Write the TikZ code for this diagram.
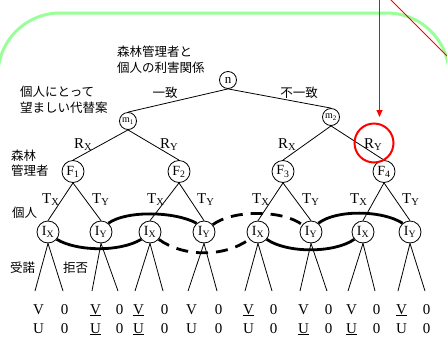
\documentclass[tikz,border=0pt]{standalone}
\usepackage{fontspec}
\setmainfont{Liberation Serif}
\newfontfamily\jpFont{Noto Sans CJK JP}
\usetikzlibrary{arrows.meta}
\tikzstyle{pixelGrid} = [x = 1pt, y = -1pt]
\definecolor{frameColor}{RGB}{153,255,153}
\definecolor{markColor}{RGB}{255,0,0}
\tikzstyle{frameStyle} = [color=frameColor, line width=3pt, rounded corners=62pt]
\tikzstyle{markLine} = [color=markColor, line width=1pt]
\tikzstyle{treeLine} = [line width=0.8pt]
\tikzstyle{smallChoice} = [draw, circle, fill=white, line width=0.8pt, inner sep=0pt, minimum size=17pt]
\tikzstyle{bigChoice} = [draw, circle, fill=white, line width=0.8pt, inner sep=0pt, minimum size=22pt, font=\fontsize{14}{14}\selectfont]
\tikzstyle{branchText} = [font=\fontsize{15}{15}\selectfont, inner sep=0pt, anchor=base west]
\tikzstyle{payoffText} = [font=\fontsize{15}{15}\selectfont, inner sep=0pt, anchor=base]
\tikzstyle{jpText} = [font=\jpFont\fontsize{12.5}{15.5}\selectfont, inner sep=0pt, anchor=west, align=left]
\tikzstyle{jpBranch} = [font=\jpFont\fontsize{12.5}{15.5}\selectfont, inner sep=0pt]
\tikzstyle{infoSet} = [line width=2.8pt]
\tikzstyle{infoSetDashed} = [line width=2.8pt, dash pattern=on 12pt off 8pt]
\newcommand{\subLabel}[2]{#1\textsubscript{#2}}
\newcommand{\leafPayoff}[3]{
  \path (accept#1) ++(3.5,23) node [payoffText] (valueV#1) {#2} ++(0,19) node [payoffText] (valueU#1) {#3};
  \path (reject#1) ++(1.5,23) node [payoffText] (zeroV#1) {0} ++(0,19) node [payoffText] (zeroU#1) {0};
}

\begin{document}
\begin{tikzpicture}[pixelGrid]
  \path [use as bounding box, clip] (0,0) rectangle (447,338);
  \draw [frameStyle] (-2,420) -- (-2,13) -- (449,13) -- (449,420);

  \node [smallChoice, font=\fontsize{13}{13}\selectfont] (n) at (228,80) {n};
  \node [smallChoice, font=\fontsize{10}{10}\selectfont] (m1) at (128,121) {\subLabel{m}{1}};
  \node [smallChoice, font=\fontsize{10}{10}\selectfont] (m2) at (331,117) {\subLabel{m}{2}};
  \foreach \idx/\x in {1/73, 2/179, 3/283, 4/384}
    \node [bigChoice] (F\idx) at (\x,171.5) {\subLabel{F}{\idx}};
  \foreach \idx/\x/\tag in {1/48/X, 2/101/Y, 3/150/X, 4/204/Y, 5/258/X, 6/311/Y, 7/363/X, 8/410/Y}
    \node [bigChoice] (I\idx) at (\x,232) {\subLabel{I}{\tag}};

  \draw [treeLine] (m1.north) -- (n.south) -- (m2.north);
  \foreach \parent/\leftKid/\rightKid in {m1/F1/F2, m2/F3/F4, F1/I1/I2, F2/I3/I4, F3/I5/I6, F4/I7/I8}
    \draw [treeLine] (\leftKid.north) -- (\parent.south) -- (\rightKid.north);
  \foreach \idx/\xa/\xb in {1/35/63, 2/92/118, 3/135/163, 4/188/217, 5/245/272, 6/300/327, 7/348/375, 8/398/425} {
    \coordinate (accept\idx) at (\xa,291);
    \coordinate (reject\idx) at (\xb,291);
    \draw [treeLine] (accept\idx) -- (I\idx.south) -- (reject\idx);
  }

  \leafPayoff{1}{V}{U}
  \leafPayoff{2}{\underline{V}}{\underline{U}}
  \leafPayoff{3}{\underline{V}}{\underline{U}}
  \leafPayoff{4}{V}{U}
  \leafPayoff{5}{\underline{V}}{U}
  \leafPayoff{6}{V}{\underline{U}}
  \leafPayoff{7}{V}{\underline{U}}
  \leafPayoff{8}{\underline{V}}{U}

  \node [jpBranch] (agree) at (165,93) {一致};
  \node [jpBranch] (disagree) at (299,93) {不一致};
  \node [branchText] (rx1) at (74,148) {\subLabel{R}{X}};
  \node [branchText] (ry1) at (160,148) {\subLabel{R}{Y}};
  \node [branchText] (rx2) at (278,148) {\subLabel{R}{X}};
  \node [branchText] (ry2) at (364,148) {\subLabel{R}{Y}};
  \foreach \idx/\x/\tag in {1/42/X, 2/92/Y, 3/147/X, 4/197/Y, 5/252/X, 6/302/Y, 7/350/X, 8/402/Y}
    \node [branchText] (t\idx) at (\x,203) {\subLabel{T}{\tag}};

  \node [jpText] (relation) at (117,59.5) {森林管理者と\\個人の利害関係};
  \node [jpText] (preference) at (20,100) {個人にとって\\望ましい代替案};
  \node [jpText] (managerLabel) at (11,163) {森林\\管理者};
  \node [jpText] (personLabel) at (12,213) {個人};
  \node [jpText] (acceptLabel) at (10,268) {受諾};
  \node [jpText] (rejectLabel) at (63,268) {拒否};

  \draw [infoSet] (I1.-40) .. controls +(20,12) and +(-22,13) .. (I3.-140);
  \draw [infoSet] (I2.50) .. controls +(18,-13) and +(-22,-12) .. (I4.130);
  \draw [infoSetDashed] (I3.-40) .. controls +(25,18) and +(-25,18) .. (I5.-140);
  \draw [infoSetDashed] (I4.40) .. controls +(20,-15) and +(-20,-15) .. (I6.140);
  \draw [infoSet] (I5.-40) .. controls +(20,14) and +(-20,14) .. (I7.-140);
  \draw [infoSet] (I6.50) .. controls +(18,-14) and +(-20,-13) .. (I8.130);

  \coordinate (arrowStart) at (379.5,-5);
  \coordinate (arrowEnd) at (379.5,117);
  \draw [markLine, -{Triangle[length=7pt, width=6pt]}] (arrowStart) -- (arrowEnd);
  \coordinate (slashTop) at (386,-5);
  \coordinate (slashBottom) at (452,61);
  \draw [markLine, line width=0.8pt] (slashTop) -- (slashBottom);
  \node [draw=markColor, line width=2pt, circle, minimum size=39pt, inner sep=0pt] (focus) at (374,143) {};
\end{tikzpicture}
\end{document}
